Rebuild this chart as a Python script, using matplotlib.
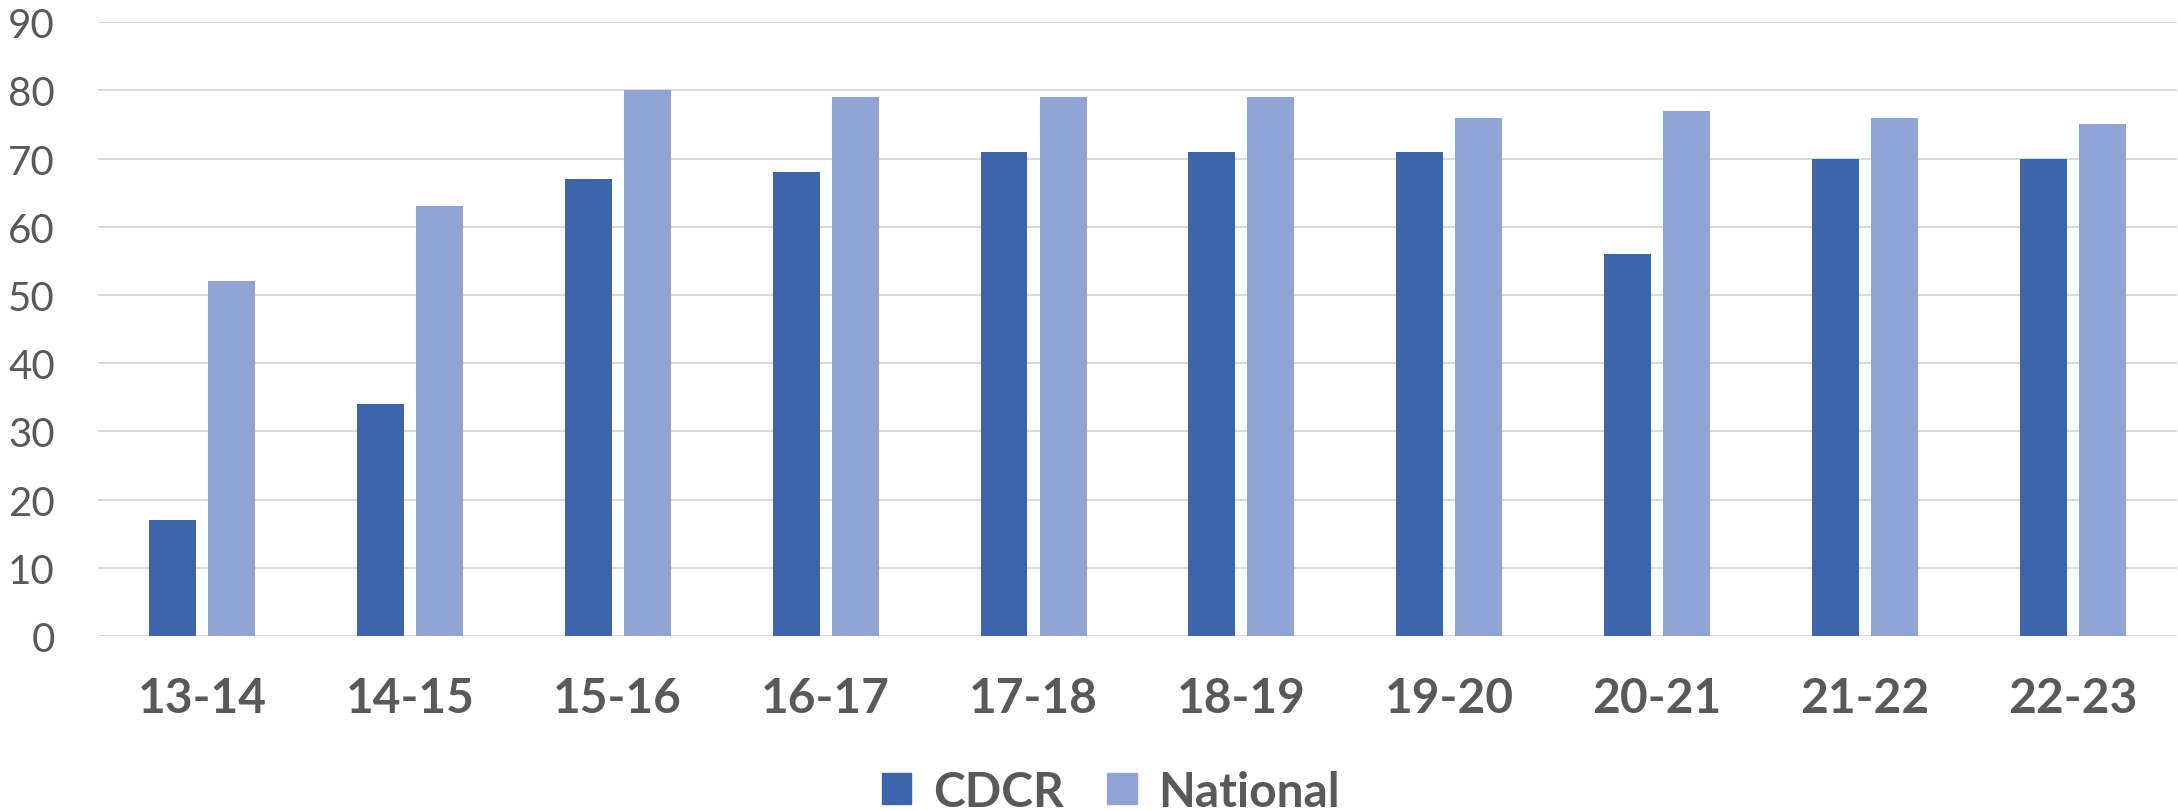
import matplotlib
matplotlib.use("Agg")
import matplotlib.pyplot as plt
import numpy as np
from matplotlib.patches import Patch

# school years and the two series
years = ["13-14", "14-15", "15-16", "16-17", "17-18",
         "18-19", "19-20", "20-21", "21-22", "22-23"]
cdcr = [17, 34, 67, 68, 71, 71, 71, 56, 70, 70]
national = [52, 63, 80, 79, 79, 79, 76, 77, 76, 75]

col_cdcr = "#3C64AA"
col_nat = "#8FA4D4"
text_col = "#595959"
grid_col = "#D9D9D9"

plt.rcParams["font.family"] = ["Lato", "DejaVu Sans"]

fig = plt.figure(figsize=(21.78, 8.12), dpi=100)
ax = fig.add_axes([0.045, 0.2155, 0.9545, 0.756])

x = np.arange(len(years))
width = 0.226
offset = 0.142

ax.bar(x - offset, cdcr, width, color=col_cdcr, zorder=3)
ax.bar(x + offset, national, width, color=col_nat, zorder=3)

ax.set_xlim(-0.5, len(years) - 0.5)
ax.set_ylim(0, 90)
ax.set_yticks(range(0, 91, 10))
ax.yaxis.grid(True, color=grid_col, linewidth=1.4, zorder=0)
ax.set_axisbelow(True)

for side in ["top", "right", "left", "bottom"]:
    ax.spines[side].set_visible(False)

ax.set_xticks(x)
ax.set_xticklabels(years, fontsize=34.5, fontweight="bold", color=text_col)
ax.tick_params(axis="x", length=0, pad=29)
ax.tick_params(axis="y", length=0, pad=31, labelsize=29, labelcolor=text_col)

handles = [Patch(color=col_cdcr, label="CDCR"), Patch(color=col_nat, label="National")]
leg = fig.legend(handles=handles, loc="center", bbox_to_anchor=(0.51, 0.024),
                 ncol=2, frameon=False, handlelength=0.62, handleheight=0.62,
                 handletextpad=0.45, columnspacing=0.9,
                 prop={"size": 34.5, "weight": "bold"})
for t in leg.get_texts():
    t.set_color(text_col)

fig.savefig("out.png", dpi=100, facecolor="white")
